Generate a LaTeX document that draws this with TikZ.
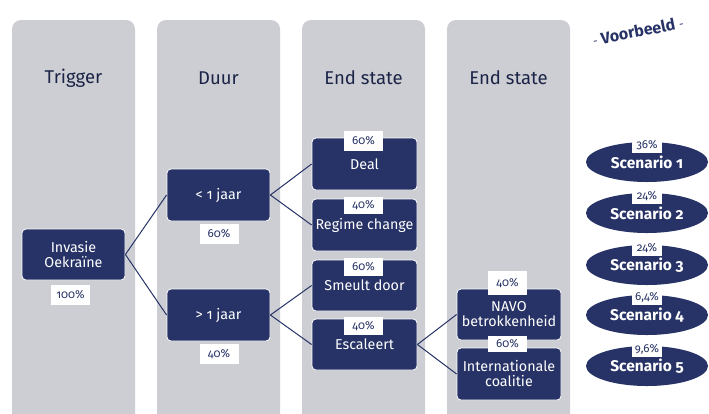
\documentclass[tikz,border=0pt]{standalone}
\usepackage{fontspec}
\setmainfont{Fira Sans}[Numbers=OldStyle]
\usetikzlibrary{shapes.geometric}
\definecolor{navy}{HTML}{273366}
\definecolor{colgrey}{HTML}{CDCED3}
\tikzset{
  col/.style={fill=colgrey, rounded corners=9pt},
  hdr/.style={font=\fontsize{18.5}{20}\selectfont, text=navy!70!black},
  box/.style={draw=white, line width=0.8pt, fill=navy, rounded corners=4pt, text=white,
     minimum width=104pt, minimum height=52pt, align=center, inner sep=1pt,
     font=\fontsize{14.3}{16}\selectfont},
  pct/.style={fill=white, text=navy, font=\fontsize{11.5}{12}\selectfont, inner sep=0pt,
     minimum width=39pt, minimum height=20pt},
  spct/.style={fill=white, text=navy, font=\fontsize{11.5}{12}\selectfont, inner sep=0pt,
     minimum width=30pt, minimum height=16pt},
  scen/.style={ellipse, fill=navy, text=white, inner sep=0pt, minimum width=122pt,
     minimum height=40pt, font=\bfseries\fontsize{15.5}{17}\selectfont},
  link/.style={draw=navy, line width=1pt},
}
\begin{document}
\begin{tikzpicture}[x=1pt,y=-1pt]
\useasboundingbox (0,0) rectangle (709,413);
\clip (0,0) rectangle (709,413);
% columns
\fill[col] (12,20) rectangle (135,440);
\fill[col] (157,20) rectangle (280,440);
\fill[col] (302,20) rectangle (425,440);
\fill[col] (447,20) rectangle (570,440);
\node[hdr] (h1) at (73.5,78) {Trigger};
\node[hdr] (h2) at (218.5,78) {Duur};
\node[hdr] (h3) at (363.5,78) {End state};
\node[hdr] (h4) at (508.5,78) {End state};
% boxes
\node[box, minimum width=103pt, minimum height=51pt] (inv) at (73.5,254.5) {Invasie\\[-1pt]Oekraïne};
\node[box, minimum width=103pt] (lt) at (218.5,195) {< 1 jaar};
\node[box, minimum width=103pt] (gt) at (218.5,315) {> 1 jaar};
\node[box, minimum width=105pt] (deal) at (364.5,164) {Deal};
\node[box, minimum width=105pt] (reg) at (364.5,225) {Regime change};
\node[box, minimum width=105pt, minimum height=51pt] (smeult) at (364.5,285.5) {Smeult door};
\node[box, minimum width=105pt, minimum height=51pt] (esc) at (364.5,344.5) {Escaleert};
\node[box, minimum width=104pt, minimum height=51pt] (navo) at (509,314.5) {NAVO\\[-1pt]betrokkenheid};
\node[box, minimum width=104pt, minimum height=52pt] (intl) at (509,374) {Internationale\\[-1pt]coalitie};
% connectors
\draw[link] (inv.east) -- (lt.west);
\draw[link] (inv.east) -- (gt.west);
\draw[link] (lt.east) -- (deal.west);
\draw[link] (lt.east) -- (reg.west);
\draw[link] (gt.east) -- (smeult.west);
\draw[link] (gt.east) -- (esc.west);
\draw[link] (esc.east) -- (navo.west);
\draw[link] (esc.east) -- (intl.west);
% percentages
\node[pct] (p1) at (70.5,294.5) {100\%};
\node[pct] (p2) at (219,234) {60\%};
\node[pct] (p3) at (219,354) {40\%};
\node[pct, minimum height=20pt] (p4) at (363.5,141) {60\%};
\node[pct, minimum height=17pt] (p5) at (363.5,205) {40\%};
\node[pct, minimum height=18pt] (p6) at (363.5,267) {60\%};
\node[pct, minimum height=18pt] (p7) at (363.5,326) {40\%};
\node[pct, minimum height=24pt] (p8) at (507.5,283) {40\%};
\node[pct, minimum height=16pt] (p9) at (507.5,344) {60\%};
% scenarios
\node[scen] (s1) at (647,162) {Scenario 1};
\node[scen] (s2) at (647,213) {Scenario 2};
\node[scen] (s3) at (647,265) {Scenario 3};
\node[scen] (s4) at (647,315) {Scenario 4};
\node[scen] (s5) at (647,366) {Scenario 5};
\node[spct] (q1) at (647,145) {36\%};
\node[spct] (q2) at (647,196) {24\%};
\node[spct] (q3) at (647,248) {24\%};
\node[spct] (q4) at (647,297) {6,4\%};
\node[spct] (q5) at (647,349) {9,6\%};
% label
\node[text=navy, font=\bfseries\fontsize{16}{18}\selectfont, rotate=11] (vb) at (638,31) {{\mdseries\fontsize{11.5}{12}\selectfont -} Voorbeeld {\mdseries\fontsize{11.5}{12}\selectfont -}};
\end{tikzpicture}
\end{document}
